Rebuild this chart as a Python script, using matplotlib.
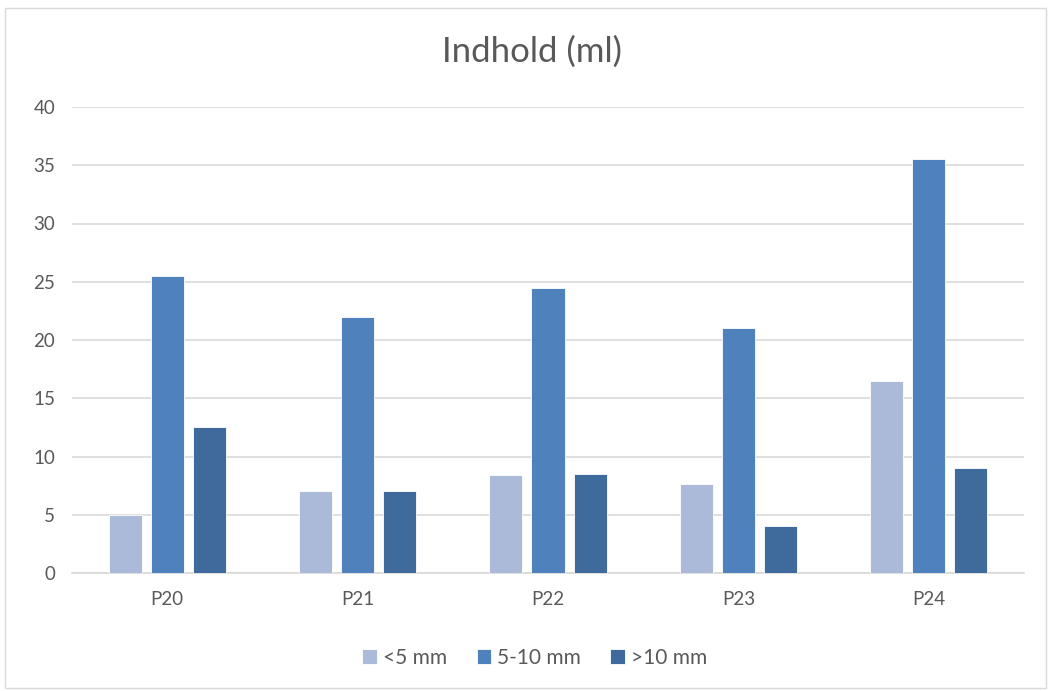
import matplotlib
matplotlib.use("Agg")
import matplotlib.pyplot as plt
import numpy as np
from matplotlib.patches import Rectangle

categories = ["P20", "P21", "P22", "P23", "P24"]
series_names = ["<5 mm", "5-10 mm", ">10 mm"]
lt5 = [5.0, 7.0, 8.4, 7.6, 16.5]
mid = [25.5, 22.0, 24.5, 21.0, 35.5]
gt10 = [12.5, 7.0, 8.5, 4.0, 9.0]
colors = ["#ABBAD8", "#4F81BD", "#3F6A9C"]
yticks = [0, 5, 10, 15, 20, 25, 30, 35, 40]

plt.rcParams['font.family'] = ['Lato', 'DejaVu Sans']
txt = "#595959"

fig = plt.figure(figsize=(10.51, 6.91), dpi=100)
fig.patches.append(Rectangle((5/1051, 3/691), 1041/1051, 680/691, transform=fig.transFigure,
                             fill=False, edgecolor="#D9D9D9", linewidth=1.0))
ax = fig.add_axes([72/1051, (691-573)/691, 952/1051, 466/691])

x = np.arange(len(categories))
w = 0.174
offs = [-0.221, 0.0, 0.221]
for vals, off, c, name in zip([lt5, mid, gt10], offs, colors, series_names):
    ax.bar(x + off, vals, width=w, color=c, edgecolor="white", linewidth=0.6, label=name, zorder=3)

ax.set_xlim(-0.5, len(categories) - 0.5)
ax.set_ylim(0, 40)
ax.set_yticks(yticks)
ax.set_xticks(x)
ax.set_xticklabels(categories)
ax.yaxis.grid(True, color="#D9D9D9", linewidth=1.2, zorder=0)
for s in ["top", "right", "left"]:
    ax.spines[s].set_visible(False)
ax.spines["bottom"].set_color("#D9D9D9")
ax.spines["bottom"].set_linewidth(1.2)
ax.tick_params(axis="both", length=0, colors=txt, labelsize=13.5)
ax.tick_params(axis="y", pad=12)
ax.tick_params(axis="x", pad=13)

fig.text(532/1051, 1 - 52/691, "Indhold (ml)", ha="center", va="center", fontsize=25, color=txt)

leg = fig.legend(loc="center", bbox_to_anchor=(535/1051, 1 - 658/691), ncol=3, frameon=False,
                 fontsize=15, handlelength=0.7, handleheight=0.7, handletextpad=0.3, columnspacing=1.4)
for t in leg.get_texts():
    t.set_color(txt)

fig.savefig("out.png", dpi=100)
